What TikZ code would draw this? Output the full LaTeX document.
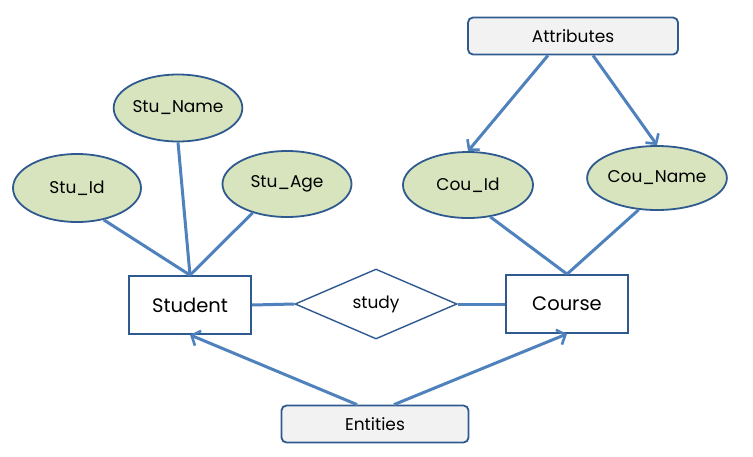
\documentclass[tikz,border=0pt]{standalone}
\usepackage{fontspec}
\setmainfont{Poppins}
\usetikzlibrary{shapes.geometric,arrows.meta,calc}
\definecolor{linkblue}{HTML}{4F81BD}
\definecolor{edgeblue}{HTML}{2F5A8F}
\definecolor{attrfill}{HTML}{D7E4BD}
\definecolor{labelfill}{HTML}{F2F2F2}
\tikzset{
  attrnode/.style={ellipse, draw=edgeblue, line width=1.8pt, fill=attrfill, inner sep=0pt,
    font=\fontsize{17}{19}\selectfont},
  entitynode/.style={rectangle, draw=edgeblue, line width=1.8pt, fill=white, inner sep=0pt,
    minimum width=122pt, minimum height=58pt, font=\fontsize{19.5}{21}\selectfont},
  relnode/.style={diamond, draw=edgeblue, line width=1.4pt, fill=white, inner sep=0pt,
    minimum width=162pt, minimum height=70pt, aspect=2.3, font=\fontsize{17}{19}\selectfont},
  tagnode/.style={rectangle, rounded corners=5pt, draw=edgeblue, line width=1.8pt, fill=labelfill,
    inner sep=0pt, font=\fontsize{17}{19}\selectfont},
  link/.style={draw=linkblue, line width=3pt},
  pointer/.style={link, -{Straight Barb[length=7pt,width=16pt,line width=2.6pt]}},
}
\begin{document}
\begin{tikzpicture}[x=1pt,y=-1pt]
\useasboundingbox (0,0) rectangle (753,456);
% labels
\node[tagnode, minimum width=210pt, minimum height=37pt] (attr) at (573,36) {Attributes};
\node[tagnode, minimum width=187pt, minimum height=37pt] (ents) at (375,424) {Entities};
% attributes
\node[attrnode, minimum width=128pt, minimum height=67pt] (sname) at (178,108) {Stu\_Name};
\node[attrnode, minimum width=128pt, minimum height=68pt] (sid) at (77,188) {Stu\_Id};
\node[attrnode, minimum width=129pt, minimum height=66pt] (sage) at (287,184) {Stu\_Age};
\node[attrnode, minimum width=130pt, minimum height=66pt] (cid) at (468,185) {Cou\_Id};
\node[attrnode, minimum width=130pt, minimum height=64pt] (cname) at (657,178) {Cou\_Name};
% entities and relation
\node[entitynode] (stu) at (190,305) {Student};
\node[entitynode] (crs) at (567,304) {Course};
\node[relnode] (rel) at (376,304) {\raisebox{2pt}{study}};
% connectors
\draw[link] (sid.-50) -- (stu.north);
\draw[link] (sname.south) -- (stu.north);
\draw[link] (sage.-140) -- (stu.north);
\draw[link] (cid.-55) -- (crs.north);
\draw[link] (cname.-120) -- (crs.north);
\draw[link] (stu.east) -- (rel.west);
\draw[link] (rel.east) -- (crs.west);
\draw[pointer] ([xshift=-25pt]attr.south) -- (cid.north);
\draw[pointer] ([xshift=20pt]attr.south) -- (cname.north);
\draw[pointer] ([xshift=-18pt]ents.north) -- (stu.south);
\draw[pointer] ([xshift=19pt]ents.north) -- (crs.south);
\end{tikzpicture}
\end{document}
